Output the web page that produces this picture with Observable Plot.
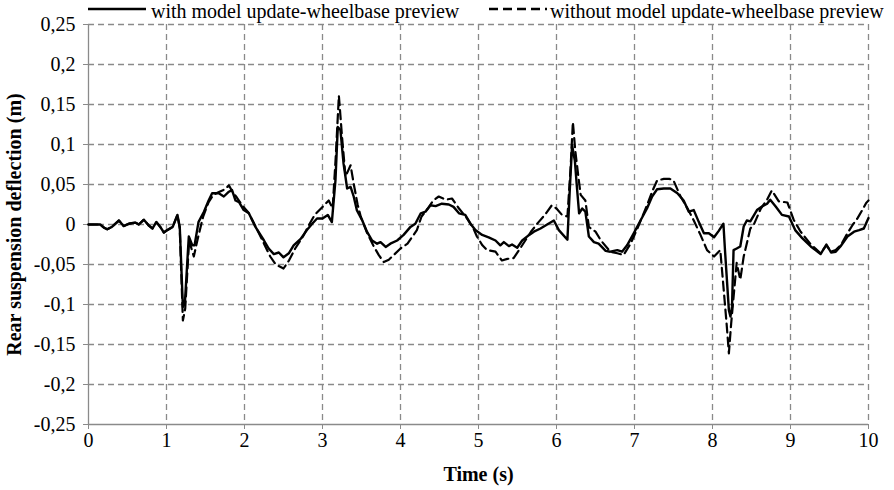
<!DOCTYPE html>
<html>
<head>
<meta charset="utf-8">
<script src="https://cdn.jsdelivr.net/npm/d3@7"></script>
<script src="https://cdn.jsdelivr.net/npm/@observablehq/plot@0.6"></script>
<style>
  html, body { margin: 0; padding: 0; background: #fff; }
  #wrap { width: 894px; height: 490px; overflow: hidden; position: relative; font-family: "Liberation Serif", "DejaVu Serif", serif; }
  #legend { position: relative; height: 22px; width: 894px; }
  #legend .item { position: absolute; top: 0; height: 22px; }
  #legend .txt { position: absolute; top: 0px; font-family: "Liberation Serif", "DejaVu Serif", serif; font-size: 20px; line-height: 22px; color: #000; white-space: nowrap; }
  #chart svg, #chart svg text { font-family: "Liberation Serif", "DejaVu Serif", serif; }
  #chart g[aria-label="x-axis label"] text, #chart g[aria-label="y-axis label"] text { font-weight: bold; font-size: 20px; }
</style>
</head>
<body>
<div id="wrap">
  <div id="legend">
    <svg class="item" style="left:88px" width="60" height="22"><line x1="0" y1="9" x2="58" y2="9" stroke="#000" stroke-width="2.6"/></svg>
    <div class="txt" style="left:151px">with model update-wheelbase preview</div>
    <svg class="item" style="left:489px" width="60" height="22"><line x1="0" y1="9" x2="58" y2="9" stroke="#000" stroke-width="2.4" stroke-dasharray="9,5"/></svg>
    <div class="txt" style="left:550px">without model update-wheelbase preview</div>
  </div>
  <div id="chart"></div>
</div>
<script>
// ---- data ----
const xTicks = [0, 1, 2, 3, 4, 5, 6, 7, 8, 9, 10];
const yTicks = [-0.25, -0.2, -0.15, -0.1, -0.05, 0, 0.05, 0.1, 0.15, 0.2, 0.25];
const yTickLabels = ["-0,25", "-0,2", "-0,15", "-0,1", "-0,05", "0", "0,05", "0,1", "0,15", "0,2", "0,25"];
const seriesNames = ["with model update-wheelbase preview", "without model update-wheelbase preview"];
const xLabel = "Time (s)";
const yLabel = "Rear suspension deflection (m)";

const withT = [0, 0.15, 0.2, 0.24, 0.30, 0.39, 0.45, 0.52, 0.60, 0.645, 0.71, 0.77, 0.82, 0.87, 0.92, 0.966, 1.01, 1.08, 1.14, 1.17, 1.21, 1.235, 1.286, 1.33, 1.36, 1.41, 1.48, 1.54, 1.585, 1.67, 1.735, 1.80, 1.84, 1.885, 1.93, 1.99, 2.056, 2.14, 2.25, 2.31, 2.376, 2.44, 2.50, 2.568, 2.63, 2.72, 2.80, 2.868, 2.93, 3.0, 3.068, 3.12, 3.166, 3.196, 3.23, 3.27, 3.316, 3.36, 3.40, 3.44, 3.51, 3.57, 3.636, 3.70, 3.744, 3.81, 3.87, 3.957, 4.04, 4.128, 4.19, 4.26, 4.32, 4.385, 4.45, 4.53, 4.62, 4.68, 4.75, 4.83, 4.897, 4.96, 5.047, 5.13, 5.218, 5.28, 5.325, 5.39, 5.43, 5.496, 5.56, 5.65, 5.71, 5.795, 5.88, 5.966, 6.03, 6.14, 6.17, 6.20, 6.235, 6.265, 6.29, 6.33, 6.37, 6.415, 6.48, 6.54, 6.63, 6.69, 6.78, 6.84, 6.905, 6.99, 7.077, 7.16, 7.226, 7.29, 7.376, 7.46, 7.55, 7.63, 7.696, 7.76, 7.825, 7.89, 7.953, 8.02, 8.08, 8.14, 8.16, 8.21, 8.23, 8.25, 8.27, 8.31, 8.356, 8.40, 8.44, 8.485, 8.57, 8.635, 8.70, 8.74, 8.81, 8.89, 8.98, 9.06, 9.15, 9.26, 9.32, 9.386, 9.46, 9.52, 9.58, 9.64, 9.73, 9.815, 9.88, 9.94, 10];
const withV = [0, 0, -0.004, -0.006, -0.003, 0.005, -0.002, 0.001, 0.0025, 0, 0.006, -0.001, -0.005, 0.003, -0.003, -0.010, -0.007, -0.003, 0.012, -0.003, -0.103, -0.099, -0.015, -0.026, -0.026, 0.003, 0.016, 0.030, 0.039, 0.039, 0.035, 0.041, 0.043, 0.030, 0.028, 0.018, 0.014, -0.003, -0.020, -0.030, -0.037, -0.035, -0.041, -0.036, -0.026, -0.018, -0.007, 0.001, 0.0075, 0.0075, 0.012, 0.003, 0.055, 0.122, 0.118, 0.076, 0.045, 0.047, 0.035, 0.018, 0.005, -0.009, -0.020, -0.024, -0.022, -0.028, -0.024, -0.020, -0.013, -0.003, 0.001, 0.014, 0.016, 0.024, 0.023, 0.026, 0.025, 0.022, 0.014, 0.012, 0.001, -0.007, -0.013, -0.016, -0.020, -0.026, -0.022, -0.027, -0.025, -0.029, -0.020, -0.013, -0.009, -0.005, 0.000, 0.005, -0.007, -0.019, 0.043, 0.099, 0.080, 0.043, 0.014, 0.020, 0.016, -0.015, -0.022, -0.024, -0.033, -0.034, -0.032, -0.034, -0.026, -0.011, 0.005, 0.020, 0.035, 0.044, 0.045, 0.045, 0.039, 0.030, 0.016, 0.018, 0.003, -0.011, -0.011, -0.016, -0.008, 0.001, -0.032, -0.107, -0.115, -0.103, -0.032, -0.030, -0.0275, -0.0025, 0.005, 0.004, 0.018, 0.0225, 0.026, 0.031, 0.0225, 0.012, 0.010, -0.007, -0.017, -0.0275, -0.032, -0.037, -0.025, -0.035, -0.034, -0.0275, -0.015, -0.009, -0.007, -0.005, 0.008];

const withoutT = [0, 0.15, 0.2, 0.24, 0.30, 0.39, 0.45, 0.52, 0.60, 0.645, 0.71, 0.77, 0.82, 0.87, 0.92, 0.966, 1.01, 1.08, 1.14, 1.17, 1.21, 1.24, 1.29, 1.35, 1.40, 1.47, 1.54, 1.60, 1.68, 1.75, 1.80, 1.85, 1.90, 1.97, 2.05, 2.14, 2.25, 2.33, 2.40, 2.50, 2.57, 2.65, 2.75, 2.83, 2.90, 3.0, 3.08, 3.13, 3.17, 3.21, 3.25, 3.295, 3.36, 3.40, 3.45, 3.49, 3.57, 3.65, 3.72, 3.786, 3.85, 3.915, 4.0, 4.09, 4.21, 4.27, 4.35, 4.42, 4.49, 4.58, 4.66, 4.75, 4.85, 4.93, 4.98, 5.05, 5.11, 5.218, 5.30, 5.37, 5.45, 5.52, 5.60, 5.68, 5.77, 5.85, 5.94, 6.0, 6.07, 6.14, 6.18, 6.21, 6.24, 6.28, 6.31, 6.37, 6.415, 6.50, 6.57, 6.69, 6.78, 6.86, 6.95, 7.05, 7.16, 7.23, 7.29, 7.376, 7.45, 7.50, 7.59, 7.68, 7.76, 7.846, 7.93, 8.02, 8.1, 8.18, 8.21, 8.24, 8.31, 8.356, 8.40, 8.485, 8.53, 8.62, 8.70, 8.76, 8.85, 8.96, 9.04, 9.13, 9.26, 9.32, 9.386, 9.46, 9.52, 9.58, 9.65, 9.73, 9.80, 9.86, 9.92, 9.97, 10];
const withoutV = [0, 0, -0.004, -0.006, -0.003, 0.005, -0.002, 0.001, 0.0025, 0, 0.006, -0.001, -0.005, 0.003, -0.003, -0.010, -0.007, -0.003, 0.012, -0.005, -0.120, -0.105, -0.020, -0.040, -0.018, 0.010, 0.028, 0.037, 0.041, 0.044, 0.049, 0.040, 0.034, 0.024, 0.015, -0.002, -0.024, -0.040, -0.050, -0.055, -0.045, -0.030, -0.015, 0.000, 0.012, 0.022, 0.030, 0.020, 0.085, 0.161, 0.110, 0.060, 0.074, 0.051, 0.025, 0.010, -0.010, -0.026, -0.038, -0.047, -0.044, -0.038, -0.030, -0.024, -0.007, 0.010, 0.020, 0.030, 0.035, 0.031, 0.0325, 0.020, 0.008, -0.004, -0.015, -0.026, -0.032, -0.034, -0.045, -0.043, -0.042, -0.032, -0.020, -0.008, 0.003, 0.012, 0.024, 0.020, 0.012, 0.010, 0.070, 0.128, 0.093, 0.060, 0.037, 0.030, -0.003, -0.009, -0.020, -0.034, -0.036, -0.038, -0.024, -0.002, 0.024, 0.042, 0.055, 0.057, 0.057, 0.055, 0.035, 0.020, 0.005, -0.013, -0.032, -0.040, -0.032, -0.123, -0.161, -0.123, -0.048, -0.069, -0.040, -0.005, 0, 0.020, 0.031, 0.0425, 0.029, 0.0275, 0.006, -0.009, -0.025, -0.030, -0.036, -0.026, -0.034, -0.032, -0.025, -0.011, 0.000, 0.008, 0.018, 0.027, 0.030];

const withData = withT.map((t, i) => ({t, v: withV[i], s: seriesNames[0]}));
const withoutData = withoutT.map((t, i) => ({t, v: withoutV[i], s: seriesNames[1]}));

const gridColor = "#8a8a8a";

const chart = Plot.plot({
  width: 894,
  height: 468,
  marginLeft: 88,
  marginRight: 26,
  marginTop: 2,
  marginBottom: 66,
  style: { fontFamily: "'Liberation Serif', 'DejaVu Serif', serif", fontSize: "20px", color: "#000", background: "#fff", overflow: "visible" },
  x: { domain: [0, 10] },
  y: { domain: [-0.25, 0.25] },
  marks: [
    Plot.gridX(xTicks.filter(d => d !== 0), { stroke: gridColor, strokeOpacity: 1, strokeWidth: 1.3, strokeDasharray: "6,4" }),
    Plot.gridY(yTicks.filter(d => d !== -0.25), { stroke: gridColor, strokeOpacity: 1, strokeWidth: 1.3, strokeDasharray: "6,4" }),
    Plot.ruleX([0], { stroke: gridColor, strokeWidth: 1.3 }),
    Plot.ruleY([-0.25], { stroke: gridColor, strokeWidth: 1.3 }),
    Plot.axisX(xTicks, { tickFormat: d => String(d), tickSize: 5, tickPadding: 3, stroke: gridColor, label: xLabel, labelAnchor: "center", labelArrow: "none", labelOffset: 56 }),
    Plot.axisY(yTicks, { tickFormat: (d, i) => yTickLabels[yTicks.indexOf(d)], tickSize: 5, tickPadding: 8, stroke: gridColor, label: yLabel, labelAnchor: "center", labelArrow: "none", labelOffset: 82 }),
    Plot.line(withoutData, { x: "t", y: "v", stroke: "#000", strokeWidth: 2.2, strokeDasharray: "9,5", curve: "linear" }),
    Plot.line(withData, { x: "t", y: "v", stroke: "#000", strokeWidth: 2.4, curve: "linear" })
  ]
});
document.getElementById("chart").appendChild(chart);
</script>
</body>
</html>
